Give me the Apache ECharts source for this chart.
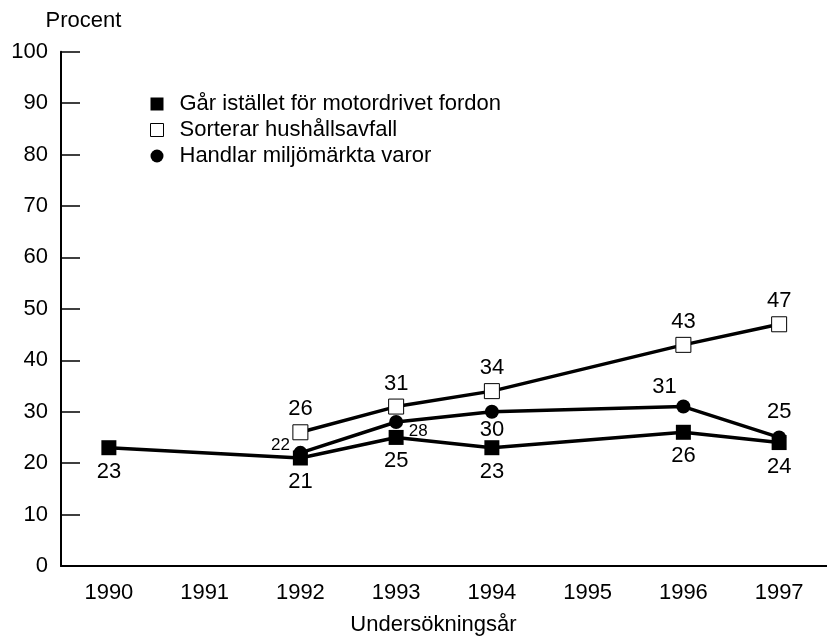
<!DOCTYPE html>
<html>
<head>
<meta charset="utf-8">
<script src="https://cdn.jsdelivr.net/npm/echarts@6/dist/echarts.min.js"></script>
<style>html,body{margin:0;padding:0;background:#fff;}#c{width:827px;height:641px;}</style>
</head>
<body>
<div id="c"></div>
<script>
var years = ['1990','1991','1992','1993','1994','1995','1996','1997'];
var seriesNames = ['Går istället för motordrivet fordon','Sorterar hushållsavfall','Handlar miljömärkta varor'];
var gar = [23, null, 21, 25, 23, null, 26, 24];
var sorterar = [null, null, 26, 31, 34, null, 43, 47];
var handlar = [null, null, 22, 28, 30, null, 31, 25];
var yTicks = [0,10,20,30,40,50,60,70,80,90,100];

var FONT = 'Liberation Sans, Arial, Helvetica, sans-serif';
var FS = 22;

// label placement (style only)
var handlarLabel = {
  2: {offset: [-20, -8], fontSize: 17},
  3: {offset: [22, 9], fontSize: 17},
  4: {offset: [0, 18]},
  6: {offset: [-19, -20]},
  7: {offset: [0, -25]}
};

function build(values, labelFn) {
  return values.map(function (v, i) {
    if (v === null) return '-';
    var item = {value: v};
    var l = labelFn(i);
    if (l) item.label = l;
    return item;
  });
}

var chart = echarts.init(document.getElementById('c'), null, {renderer: 'canvas'});
chart.setOption({
  backgroundColor: '#fff',
  animation: false,
  textStyle: {fontFamily: FONT, color: '#000'},
  grid: {left: 61, top: 51.7, width: 771, height: 514.3, containLabel: false},
  legend: {
    orient: 'vertical',
    left: 145,
    top: 88,
    itemWidth: 13,
    itemHeight: 13,
    itemGap: 4,
    selectedMode: false,
    textStyle: {fontSize: FS, fontFamily: FONT, color: '#000', padding: [0, 0, 0, 11]},
    data: [
      {name: seriesNames[0], icon: 'rect', itemStyle: {color: '#000', borderWidth: 0}},
      {name: seriesNames[1], icon: 'rect', itemStyle: {color: '#fff', borderColor: '#000', borderWidth: 1}},
      {name: seriesNames[2], icon: 'circle', itemStyle: {color: '#000', borderWidth: 0}}
    ]
  },
  xAxis: {
    type: 'category',
    data: years,
    boundaryGap: true,
    axisLine: {lineStyle: {color: '#000', width: 2}},
    axisTick: {alignWithLabel: true, inside: true, length: 13, lineStyle: {color: '#000', width: 1.5}},
    axisLabel: {fontSize: FS, color: '#000', fontFamily: FONT, margin: 16},
    splitLine: {show: false}
  },
  yAxis: {
    type: 'value',
    min: 0, max: 100, interval: 10,
    axisLine: {show: true, lineStyle: {color: '#000', width: 2}},
    axisTick: {show: true, inside: true, length: 19, lineStyle: {color: '#000', width: 1.5}},
    axisLabel: {fontSize: FS, color: '#000', fontFamily: FONT, margin: 13},
    splitLine: {show: false}
  },
  graphic: [
    {type: 'text', x: 83.5, y: 21, style: {text: 'Procent', fontSize: FS, fontFamily: FONT, fill: '#000', align: 'center', verticalAlign: 'middle'}},
    {type: 'text', x: 433.5, y: 625, style: {text: 'Undersökningsår', fontSize: FS, fontFamily: FONT, fill: '#000', align: 'center', verticalAlign: 'middle'}}
  ],
  series: [
    {
      name: seriesNames[2], type: 'line', connectNulls: true, z: 2,
      symbol: 'circle', symbolSize: 14,
      lineStyle: {color: '#000', width: 3.5},
      itemStyle: {color: '#000'},
      label: {show: true, position: 'inside', fontSize: FS, color: '#000', fontFamily: FONT},
      data: build(handlar, function (i) { return handlarLabel[i] || null; })
    },
    {
      name: seriesNames[0], type: 'line', connectNulls: true, z: 3,
      symbol: 'rect', symbolSize: 15,
      lineStyle: {color: '#000', width: 3.5},
      itemStyle: {color: '#000'},
      label: {show: true, position: 'inside', offset: [0, 24], fontSize: FS, color: '#000', fontFamily: FONT},
      data: build(gar, function () { return null; })
    },
    {
      name: seriesNames[1], type: 'line', connectNulls: true, z: 4,
      symbol: 'rect', symbolSize: 15,
      lineStyle: {color: '#000', width: 3.5},
      itemStyle: {color: '#fff', borderColor: '#000', borderWidth: 1},
      label: {show: true, position: 'inside', offset: [0, -23], fontSize: FS, color: '#000', fontFamily: FONT},
      data: build(sorterar, function () { return null; })
    }
  ]
});
</script>
</body>
</html>
